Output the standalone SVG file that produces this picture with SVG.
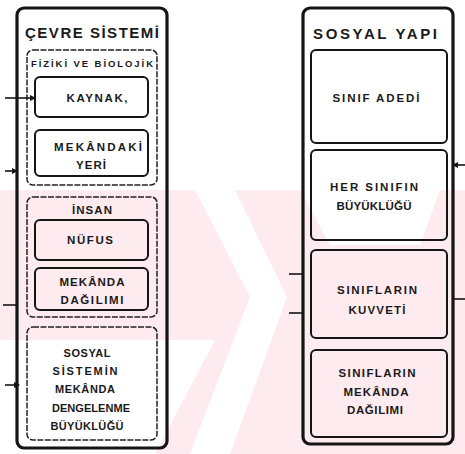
<svg xmlns="http://www.w3.org/2000/svg" width="465" height="454" viewBox="0 0 465 454">
<style>
.outer{fill:none;stroke:#151515;stroke-width:3.2}
.group{fill:none;stroke:#222;stroke-width:1.5;stroke-dasharray:6 1.5}
.box{fill:none;stroke:#151515;stroke-width:2}
.ln{fill:none;stroke:#151515;stroke-width:1.6}
.t{font-family:"Liberation Sans",Arial,sans-serif;font-weight:bold;font-size:11.5px;text-anchor:middle;fill:#1a1a1a}
.ti{font-size:15px}
.sm{font-size:9.5px}
.md{font-size:11px}
.wm{fill:#fdebef}
.wh{fill:#ffffff}
</style>
<defs>
<marker id="ah" markerWidth="6" markerHeight="6" refX="5" refY="3" orient="auto" markerUnits="userSpaceOnUse">
<path d="M0,0 L6,3 L0,6 Z" fill="#151515"/>
</marker>
</defs>
<rect x="0" y="0" width="465" height="454" fill="#ffffff"/>
<g id="watermark">
<rect class="wm" x="0" y="190" width="465" height="264"/>
<polygon class="wh" points="195,190 235,190 287,297 230,454 190,454 250,297"/>
<polygon class="wh" points="0,340 215,340 155,454 0,454"/>
<polygon class="wh" points="300,190 440,190 420,245 330,245"/>
</g>
<g id="cevre-sistemi">
<rect class="outer" x="17" y="8" width="150" height="440" rx="7"/>
<text class="t ti" x="92" y="38" textLength="134">ÇEVRE SİSTEMİ</text>
</g>
<g id="fiziki-biolojik">
<rect class="group" x="27" y="50" width="130" height="135" rx="6"/>
<text class="t sm" x="92" y="67" textLength="122">FİZİKİ VE BİOLOJİK</text>
</g>
<g id="kaynak">
<rect class="box" x="35" y="77" width="113" height="40" rx="5"/>
<text class="t" x="97" y="102" textLength="61">KAYNAK,</text>
</g>
<g id="mekandaki-yeri">
<rect class="box" x="35" y="130" width="113" height="46" rx="5"/>
<text class="t" x="98" y="151" textLength="88">MEKÂNDAKİ</text>
<text class="t" x="91" y="169" textLength="30">YERİ</text>
</g>
<g id="insan">
<rect class="group" x="27" y="197" width="130" height="120" rx="6"/>
<text class="t" x="92" y="214" textLength="40">İNSAN</text>
</g>
<g id="nufus">
<rect class="box" x="35" y="220" width="113" height="40" rx="5"/>
<text class="t" x="90" y="244" textLength="46">NÜFUS</text>
</g>
<g id="mekanda-dagilimi">
<rect class="box" x="35" y="268" width="113" height="42" rx="5"/>
<text class="t" x="92" y="286" textLength="65">MEKÂNDA</text>
<text class="t" x="92" y="304" textLength="63">DAĞILIMI</text>
</g>
<g id="sosyal-sistemin-dengelenme">
<rect class="group" x="27" y="327" width="130" height="113" rx="6"/>
<text class="t md" x="87" y="357" textLength="47">SOSYAL</text>
<text class="t md" x="85" y="375" textLength="65">SİSTEMİN</text>
<text class="t md" x="85" y="393" textLength="60">MEKÂNDA</text>
<text class="t md" x="91" y="412" textLength="78">DENGELENME</text>
<text class="t md" x="87" y="430" textLength="73">BÜYÜKLÜĞÜ</text>
</g>
<g id="sosyal-yapi">
<rect class="outer" x="303" y="8" width="150" height="436" rx="7"/>
<text class="t ti" x="375" y="39" textLength="124">SOSYAL YAPI</text>
</g>
<g id="sinif-adedi">
<rect class="box" x="311" y="50" width="136" height="93" rx="5"/>
<text class="t" x="376" y="102" textLength="87">SINIF ADEDİ</text>
</g>
<g id="her-sinifin-buyuklugu">
<rect class="box" x="311" y="150" width="136" height="90" rx="5"/>
<text class="t" x="374" y="191" textLength="88">HER SINIFIN</text>
<text class="t" x="374" y="210" textLength="75">BÜYÜKLÜĞÜ</text>
</g>
<g id="siniflarin-kuvveti">
<rect class="box" x="311" y="250" width="136" height="88" rx="5"/>
<text class="t" x="377" y="294" textLength="80">SINIFLARIN</text>
<text class="t" x="377" y="314" textLength="57">KUVVETİ</text>
</g>
<g id="siniflarin-mekanda-dagilimi">
<rect class="box" x="311" y="350" width="136" height="87" rx="5"/>
<text class="t" x="377" y="377" textLength="77">SINIFLARIN</text>
<text class="t" x="376" y="396" textLength="65">MEKÂNDA</text>
<text class="t" x="375" y="414" textLength="56">DAĞILIMI</text>
</g>
<g id="connectors">
<line class="ln" x1="5" y1="98" x2="35" y2="98" marker-end="url(#ah)"/>
<line class="ln" x1="5" y1="171" x2="17" y2="171" marker-end="url(#ah)"/>
<line class="ln" x1="3" y1="305" x2="17" y2="305"/>
<line class="ln" x1="5" y1="385" x2="19" y2="385" marker-end="url(#ah)"/>
<line class="ln" x1="465" y1="165" x2="453" y2="165" marker-end="url(#ah)"/>
<line class="ln" x1="453" y1="299" x2="465" y2="299"/>
<line class="ln" x1="289" y1="274" x2="303" y2="274"/>
<line class="ln" x1="289" y1="313" x2="303" y2="313"/>
</g>
</svg>
